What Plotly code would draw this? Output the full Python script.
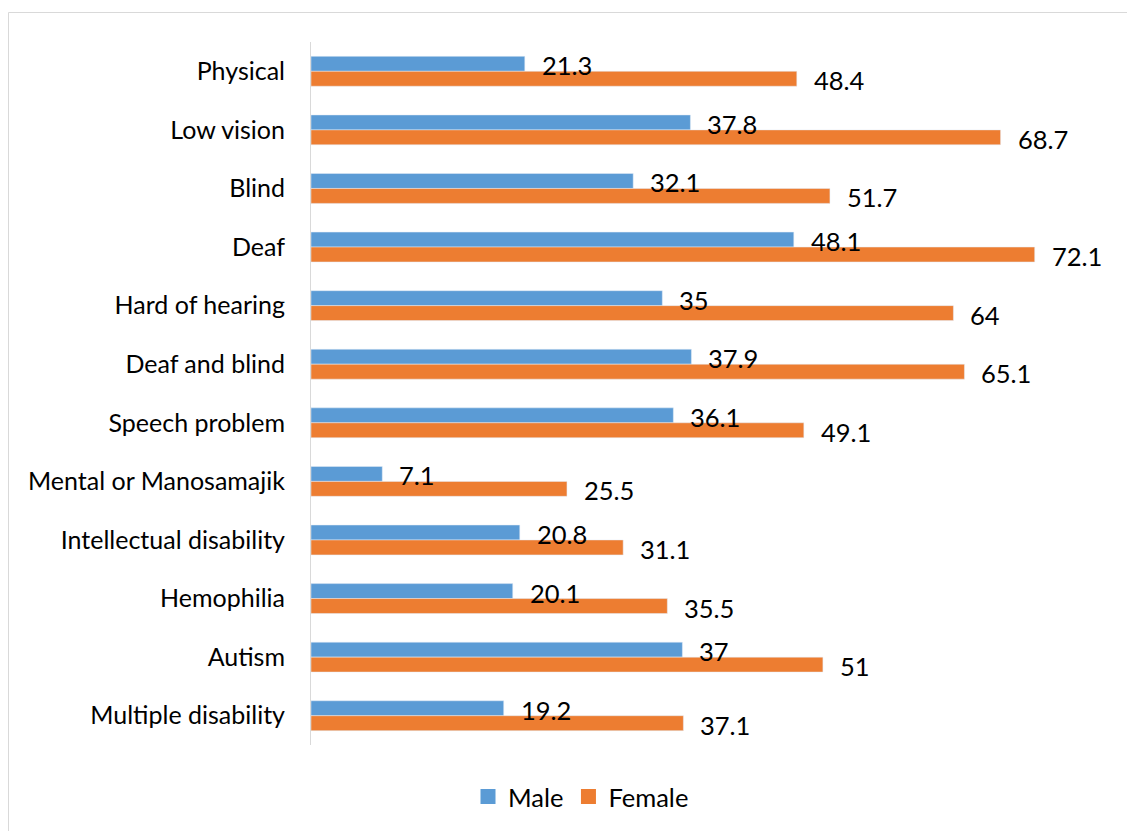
import plotly.graph_objects as go

categories = ["Physical", "Low vision", "Blind", "Deaf", "Hard of hearing",
              "Deaf and blind", "Speech problem", "Mental or Manosamajik",
              "Intellectual disability", "Hemophilia", "Autism", "Multiple disability"]
male = [21.3, 37.8, 32.1, 48.1, 35, 37.9, 36.1, 7.1, 20.8, 20.1, 37, 19.2]
female = [48.4, 68.7, 51.7, 72.1, 64, 65.1, 49.1, 25.5, 31.1, 35.5, 51, 37.1]
series_names = ["Male", "Female"]

MALE_C = "#5B9BD5"
FEMALE_C = "#ED7D31"
FONT = "Lato"
FS = 25.5
TFS = 25

W, H = 1135, 831
L, T = 303, 34
PW, PH = 803, 703
R = W - L - PW
B = H - T - PH
XMAX = 80

fig = go.Figure()
fig.add_trace(go.Bar(y=categories, x=male, name=series_names[0], orientation="h",
                     marker=dict(color=MALE_C), hoverinfo="x+y", showlegend=False))
fig.add_trace(go.Bar(y=categories, x=female, name=series_names[1], orientation="h",
                     marker=dict(color=FEMALE_C), hoverinfo="x+y", showlegend=False))
# legend entries with square swatches
for nm, col in zip(series_names, [MALE_C, FEMALE_C]):
    fig.add_trace(go.Scatter(x=[None], y=[None], mode="markers", name=nm,
                             marker=dict(symbol="square", size=15, color=col),
                             showlegend=True, hoverinfo="skip"))

annotations = []
for c, v in zip(categories, male):
    annotations.append(dict(x=v, y=c, text=f"{v:g}", showarrow=False, xanchor="left",
                            yanchor="middle", xshift=15, yshift=6,
                            font=dict(family=FONT, size=FS, color="#000")))
for c, v in zip(categories, female):
    annotations.append(dict(x=v, y=c, text=f"{v:g}", showarrow=False, xanchor="left",
                            yanchor="middle", xshift=15, yshift=-9,
                            font=dict(family=FONT, size=FS, color="#000")))

fig.add_shape(type="rect", xref="paper", yref="paper",
              x0=(0.5 - L) / PW, x1=(W + 5 - L) / PW,
              y0=-(H + 5 - T - PH) / PH, y1=1 + (T - 4.5) / PH,
              line=dict(color="#D9D9D9", width=1), layer="below")

fig.update_layout(
    width=W, height=H,
    margin=dict(l=L, r=R, t=T, b=B),
    paper_bgcolor="white", plot_bgcolor="white",
    barmode="group", bargap=0.49, bargroupgap=0,
    font=dict(family=FONT, size=FS, color="#000"),
    xaxis=dict(range=[0, XMAX], showgrid=False, showticklabels=False, zeroline=False,
               showline=False, ticks=""),
    yaxis=dict(autorange="reversed", showgrid=False, showline=True, linecolor="#D9D9D9",
               linewidth=1, ticks="outside", ticklen=20, tickcolor="rgba(0,0,0,0)",
               tickfont=dict(family=FONT, size=TFS, color="#000")),
    legend=dict(orientation="h", x=(573 - L) / PW, xanchor="center",
                y=-(789 - (T + PH)) / PH, yanchor="middle", itemwidth=30,
                font=dict(family=FONT, size=FS, color="#000"), traceorder="normal"),
    annotations=annotations,
    showlegend=True,
)

fig.write_html("out.html")
